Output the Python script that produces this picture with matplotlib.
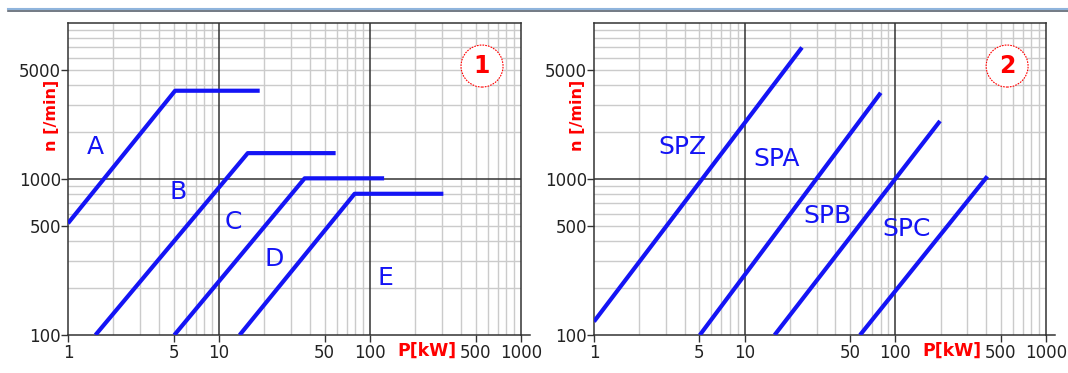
import matplotlib
matplotlib.use("Agg")
import matplotlib.pyplot as plt
from matplotlib.patches import Ellipse
from matplotlib.lines import Line2D
from matplotlib.ticker import NullLocator

plt.rcParams['font.family'] = ['DejaVu Sans']

# panel 1 : belt profiles A..D, P [kW] -> n [/min] (rise, then flat)
A_P = [1.0, 5.12, 18.6]
A_n = [520, 3680, 3680]
B_P = [1.52, 15.5, 59.2]
B_n = [100, 1465, 1465]
C_P = [5.06, 36.9, 124]
C_n = [100, 1010, 1010]
D_P = [13.7, 79.1, 306]
D_n = [100, 804, 804]

labels1 = ['A', 'B', 'C', 'D', 'E']
labels1_P = [1.51, 5.39, 12.5, 23.2, 126]
labels1_n = [1600, 829, 531, 305, 231]

# panel 2 : narrow belt profiles SPZ..SPC
SPZ_P = [1.0, 24.0]
SPZ_n = [122, 6970]
SPA_P = [5.04, 80]
SPA_n = [100, 3570]
SPB_P = [15.8, 198]
SPB_n = [100, 2355]
SPC_P = [58.3, 408]
SPC_n = [100, 1040]

labels2 = ['SPZ', 'SPA', 'SPB', 'SPC']
labels2_P = [3.87, 16.2, 35.7, 119]
labels2_n = [1600, 1346, 580, 475]

x_ticks = [1, 5, 10, 50, 100, 500, 1000]
y_ticks = [100, 500, 1000, 5000]

BLUE = '#1414f5'
DARK = '#333333'
LIGHT = '#cbcbcb'


def setup(ax, num):
    ax.set_xscale('log')
    ax.set_yscale('log')
    ax.set_xlim(1, 1000)
    ax.set_ylim(100, 10000)
    # grid
    for dec in [1, 10, 100]:
        for k in range(2, 10):
            ax.axvline(dec * k, color=LIGHT, lw=1.0, zorder=0)
    for dec in [100, 1000]:
        for k in range(2, 10):
            ax.axhline(dec * k, color=LIGHT, lw=1.0, zorder=0)
    for v in [10, 100]:
        ax.axvline(v, color=DARK, lw=1.1, zorder=0.5)
    ax.axhline(1000, color=DARK, lw=1.1, zorder=0.5)
    for s in ax.spines.values():
        s.set_color(DARK)
        s.set_linewidth(1.1)
    ax.plot([1, 1.02], [0, 0], transform=ax.transAxes, color=DARK, lw=1.1, clip_on=False)

    ax.set_xticks(x_ticks)
    ax.set_xticklabels([str(t) for t in x_ticks])
    ax.set_yticks(y_ticks)
    ax.set_yticklabels([str(t) for t in y_ticks])
    ax.xaxis.set_minor_locator(NullLocator())
    ax.yaxis.set_minor_locator(NullLocator())
    ax.tick_params(axis='x', length=5, width=1, color=DARK, labelsize=12, pad=1.5, labelcolor='#222222')
    ax.tick_params(axis='y', length=5, width=1, color=DARK, labelsize=12, pad=0, labelcolor='#222222')

    ax.text(-0.036, 0.705, 'n [/min]', rotation=90, transform=ax.transAxes, color='red',
            fontweight='bold', fontsize=11.5, ha='center', va='center')
    ax.text(0.792, -0.052, 'P[kW]', transform=ax.transAxes, color='red',
            fontweight='bold', fontsize=12.5, ha='center', va='center')

    # circled panel number
    ax.add_patch(Ellipse((0.914, 0.862), 2 * 21 / 453, 2 * 21 / 312, transform=ax.transAxes,
                         facecolor='white', edgecolor='red', lw=0.8, ls=(0, (1.5, 1)), zorder=4))
    ax.text(0.914, 0.862, str(num), transform=ax.transAxes, color='red', fontweight='bold',
            fontsize=17, ha='center', va='center', zorder=5)


fig = plt.figure(figsize=(10.68, 3.73), dpi=100)
ax1 = fig.add_axes([68 / 1068, 1 - 335 / 373, 453 / 1068, 312 / 373])
ax2 = fig.add_axes([594 / 1068, 1 - 335 / 373, 452 / 1068, 312 / 373])

setup(ax1, 1)
for P, n in [(A_P, A_n), (B_P, B_n), (C_P, C_n), (D_P, D_n)]:
    ax1.plot(P, n, color=BLUE, lw=3, solid_capstyle='butt', zorder=3)
for t, P, n in zip(labels1, labels1_P, labels1_n):
    ax1.text(P, n, t, color=BLUE, fontsize=18, ha='center', va='center', zorder=3)

setup(ax2, 2)
for P, n in [(SPZ_P, SPZ_n), (SPA_P, SPA_n), (SPB_P, SPB_n), (SPC_P, SPC_n)]:
    ax2.plot(P, n, color=BLUE, lw=3, solid_capstyle='butt', zorder=3)
for t, P, n in zip(labels2, labels2_P, labels2_n):
    ax2.text(P, n, t, color=BLUE, fontsize=18, ha='center', va='center', zorder=3)

# header rule
fig.add_artist(Line2D([8 / 1068, 1], [1 - 9 / 373] * 2, color='#8fb4dc', lw=1.5))
fig.add_artist(Line2D([8 / 1068, 1], [1 - 10.8 / 373] * 2, color='#5b6470', lw=1.2))

fig.savefig('out.png', dpi=100)
